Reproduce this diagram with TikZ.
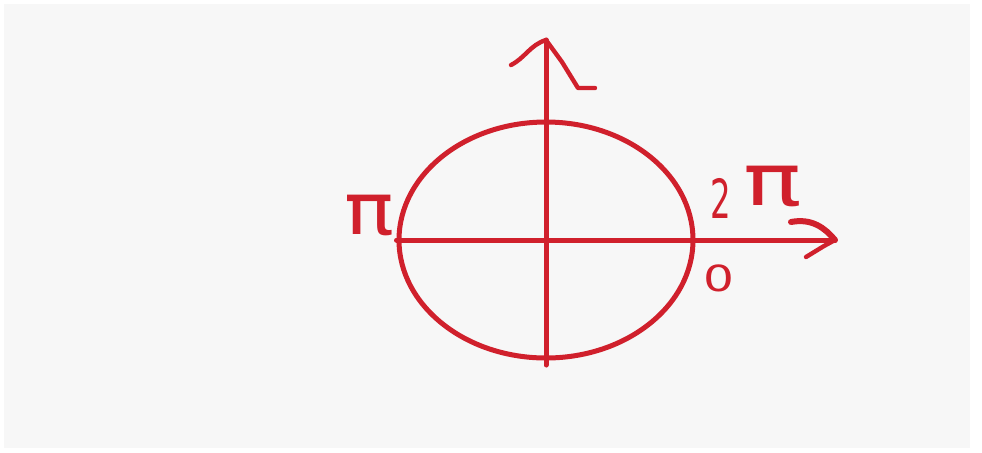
\documentclass[tikz,border=0pt]{standalone}
\usepackage{xcolor}
\usepackage{graphicx}
\usepackage{fontspec}
\newfontfamily\handfont{DejaVu Sans}
\definecolor{ink}{RGB}{208,32,44}
\definecolor{paper}{RGB}{247,247,247}
\usetikzlibrary{positioning, calc, shapes.geometric}
\tikzstyle{Axis} = [ink, line width=2.5pt, line cap=round]
\tikzstyle{Tip} = [ink, line width=2.2pt, line cap=round, line join=round]
\tikzstyle{Label} = [text=ink, inner sep=0pt]

\begin{document}
\begin{tikzpicture}[x=0.5pt, y=-0.5pt]
    \fill[white] (0,0) rectangle (982,452);
    \fill[paper] (4,4) rectangle (970,448);

    \node[draw=ink, line width=2.5pt, ellipse, inner sep=0pt,
          minimum width=147pt, minimum height=118pt] (O) at (546,240) {};
    \coordinate (top) at (546,40);
    \coordinate (bottom) at (546,365);
    \coordinate (right) at (835,240);

    \draw[Axis] (bottom) -- (top);
    \draw[Axis] (O.west) -- (right);
    % hand drawn tips
    \draw[Tip] (511,65) .. controls (525,58) and (530,45) .. (top);
    \draw[Tip] (top) -- (562,62) -- (578,88) -- (595,88);
    \draw[Tip, line width=3pt] (791,222) .. controls (812,218) and (825,228) .. (right);
    \draw[Tip] (806,257) -- (824,246) -- (right);

    \node[Label, font=\handfont\fontsize{36}{36}\selectfont] (pi) at (369,215) {\scalebox{1.15}[1]{π}};
    \node[Label, font=\handfont\fontsize{27}{27}\selectfont] (two) at (721,198) {\scalebox{0.6}[1]{2}};
    \node[Label, font=\handfont\fontsize{36}{36}\selectfont] (twopi) at (773,186) {\scalebox{1.35}[1]{π}};
    \node[Label, font=\handfont\fontsize{18}{18}\selectfont] (zero) at (719,278) {\scalebox{1.35}[1]{0}};
\end{tikzpicture}
\end{document}
